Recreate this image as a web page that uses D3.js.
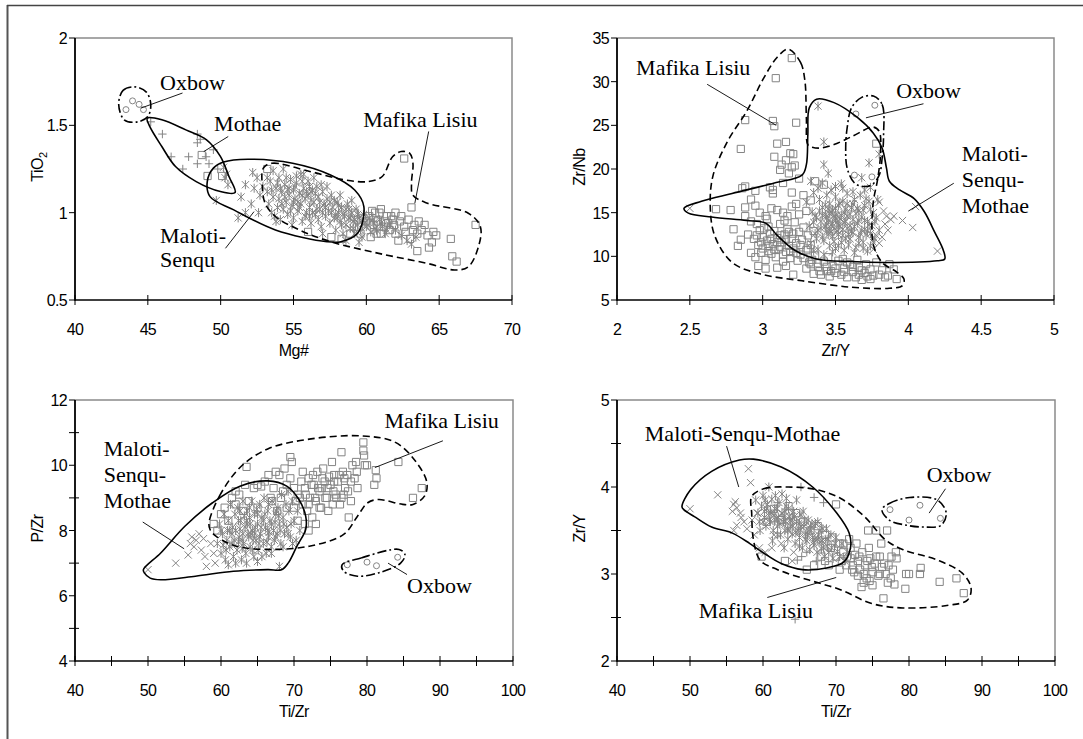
<!DOCTYPE html>
<html>
<head>
<meta charset="utf-8">
<script src="https://cdn.jsdelivr.net/npm/d3@7"></script>
<style>
  html, body { margin: 0; padding: 0; background: #fff; }
  svg { display: block; }
  .tick-label { font-family: "Liberation Sans", Arial, sans-serif; font-size: 16px; letter-spacing: -0.7px; fill: #000; }
  .axis-title { font-family: "Liberation Sans", Arial, sans-serif; font-size: 16px; letter-spacing: -0.5px; fill: #000; }
  .note { font-family: "Liberation Serif", "Times New Roman", serif; font-size: 22px; fill: #000; }
</style>
</head>
<body>
<svg id="chart" width="1083" height="739"></svg>
<script>
// ---------- Panel A: Mg# vs TiO2 ----------
const a_mafika = [[48.7,1.33],[49.1,1.21],[50.1,1.21],[53.2,1.25],[62.6,1.31],[63.1,1.03],[60.2,0.98],[60.6,1.0],[61.0,1.02],[61.4,0.98],[61.8,0.96],[62.0,1.0],[62.3,0.95],[62.6,0.92],[62.9,0.96],[63.2,0.9],[63.5,0.88],[63.8,0.9],[64.2,0.87],[64.5,0.83],[64.8,0.87],[64.3,0.8],[65.8,0.85],[65.9,0.75],[66.2,0.72],[67.5,0.93],[63.5,0.78],[60.5,0.93],[61.2,0.92],[61.6,0.9],[60.0,0.95],[59.5,0.92],[58.9,0.88],[58.3,0.85],[57.6,0.86],[62.0,0.88],[61.0,0.88],[63.0,0.85],[59.8,0.97],[60.8,0.95],[61.5,0.94],[62.4,0.98],[56.0,0.89],[59.2,1.0],[60.4,1.01],[60.9,1.0],[63.6,0.95],[64.0,0.93],
  [59.6,0.88],[60.3,0.86],[61.3,0.95],[61.9,0.93],[62.7,0.89],[63.3,0.93],[60.7,0.88],[62.2,0.84],[64.6,0.89],[61.7,0.98]];
const a_senqu = [[49.7,1.07],[50.2,1.26],[50.3,1.2],[50.5,1.16],[50.4,1.22],[51.4,1.09],[51.7,1.16],[51.2,0.97],[51.7,1.0],[52.2,1.23],[52.5,1.2],[52.3,1.14],[52.7,1.1],[52.1,1.05],[52.6,1.0],[52.9,1.15],[53.2,1.12],[53.3,1.05],[53.4,1.18],[53.5,1.0],[53.6,1.09],[53.7,0.98],[53.8,1.14],[53.9,1.03],[54.0,1.2],[54.0,1.08],[54.1,0.96],[54.2,1.12],[54.3,1.02],[54.4,1.16],[54.5,1.06],[54.6,0.99],[54.7,1.1],[54.8,1.19],[54.9,1.04],[55.0,1.13],[55.0,0.97],[55.1,1.08],[55.2,1.17],[55.3,1.01],[55.4,1.11],[55.5,1.22],[55.5,1.05],[55.6,0.95],[55.7,1.14],[55.8,1.08],[55.9,1.0],[56.0,1.18],[56.0,1.1],[56.1,1.03],[56.2,0.94],[56.3,1.13],[56.4,1.06],[56.5,0.99],[56.6,1.15],[56.7,1.09],[56.8,1.02],[56.9,0.92],[57.0,1.12],[57.1,1.05],[57.2,0.98],[57.3,1.08],[57.4,1.01],[57.5,0.94],[57.6,1.1],[57.7,1.03],[57.8,0.97],[57.9,0.9],[58.0,1.06],[58.1,1.0],[58.2,0.95],[58.3,1.03],[58.4,0.88],[58.5,0.98],[58.6,0.93],[58.7,1.05],[58.8,0.97],[58.9,0.91],[59.0,1.0],[59.1,0.95],[59.2,0.88],[59.3,1.02],[59.4,0.93],[59.5,0.97],[59.6,0.9],[59.7,0.86],[59.8,0.99],[59.9,0.94],[60.0,0.92],[60.2,0.97],[60.3,0.89],[60.5,0.94],[60.7,0.9],[60.9,0.96],[61.1,0.92],[61.3,0.88],[61.6,0.93],[62.0,0.9],[62.4,0.87],[62.8,0.84],[63.1,0.82],[63.4,0.86],[53.6,1.24],[54.3,1.25],[55.2,1.21],[55.7,1.22],[56.4,1.2],[53.2,1.2],[53.8,0.95],[54.9,0.93],[56.1,0.98],[57.3,1.15],[58.2,1.1],[59.0,1.07],[58.6,0.84],[59.5,0.83],[57.0,0.88],[54.4,1.09],[55.3,1.06],[56.2,1.07],[55.9,1.12],[54.7,1.14],[57.6,1.0],[56.6,1.02],[58.0,0.97],
  [53.5,1.13],[53.9,1.17],[54.2,1.05],[54.6,1.13],[54.8,1.01],[55.1,1.15],[55.4,1.03],[55.6,1.18],[55.8,0.98],[56.1,1.15],[56.3,1.0],[56.5,1.11],[56.8,1.06],[56.9,1.16],[57.2,1.03],[57.5,1.06],[57.8,1.07],[58.1,1.04],[58.4,0.99],[58.6,1.02],[58.9,0.97],[59.2,0.96],[59.4,0.99],[59.7,0.95],[60.1,0.93],[60.4,0.96],[60.6,0.91],[61.0,0.94],[61.4,0.9],[54.1,1.14],[54.5,1.2],[55.0,1.06],[55.6,1.1],[56.2,1.12],[56.7,0.96],[57.0,1.0],[57.9,0.99],[58.3,0.93],[58.8,1.02],[59.1,0.91]];
const a_mothae = [[45.2,1.52],[46.0,1.45],[46.6,1.32],[47.4,1.25],[47.8,1.32],[48.4,1.45],[48.4,1.4],[48.4,1.28],[49.0,1.32],[49.5,1.36],[49.2,1.28],[48.6,1.42],[49.8,1.25]];
const a_oxbow = [[43.5,1.59],[43.95,1.64],[44.4,1.62],[44.7,1.59]];
const a_fieldOxbow = [[43.0,1.62],[43.3,1.70],[44.1,1.72],[44.9,1.69],[45.2,1.62],[45.0,1.55],[44.3,1.52],[43.4,1.53]];
const a_fieldMothae = [[44.96,1.541],[45.96,1.532],[47.61,1.474],[49.03,1.417],[49.98,1.322],[50.57,1.207],[50.99,1.115],[49.98,1.121],[48.32,1.178],[46.9,1.264],[45.96,1.379],[45.13,1.494]];
const a_fieldMaloti = [[49.5,1.255],[50.2,1.29],[51.87,1.306],[54.94,1.283],[57.54,1.216],[59.2,1.13],[59.83,1.035],[59.4,0.882],[58.25,0.834],[57.3,0.834],[53.76,0.901],[50.9,1.016],[49.27,1.092],[49.08,1.178]];
const a_fieldMafika = [[52.93,1.255],[53.52,1.283],[56.12,1.236],[58.49,1.188],[60.14,1.178],[61.09,1.207],[61.8,1.32],[62.39,1.35],[62.98,1.34],[63.2,1.283],[63.1,1.169],[63.2,1.1],[64.2,1.054],[67.0,0.997],[67.83,0.92],[67.7,0.806],[67.0,0.69],[66.05,0.672],[64.16,0.71],[60.85,0.767],[57.54,0.834],[55.41,0.901],[53.76,0.978],[53.05,1.054],[52.86,1.15]];

// ---------- Panel B: Zr/Y vs Zr/Nb ----------
const b_mafika = [[3.2,32.7],[3.09,30.4],[2.88,25.6],[3.07,25.5],[3.08,24.9],[3.23,25.3],[2.85,22.3],[3.1,22.9],[3.16,23.1],[3.21,21.7],[3.08,21.4],[3.16,21.0],[3.22,20.4],[3.12,19.9],[3.18,19.5],[3.13,20.5],[3.19,21.8],[3.2,20.2],[3.78,22.9],[3.36,18.6],[3.42,18.2],[3.25,18.9],[3.14,18.4],[3.05,17.9],[2.88,18.0],[2.86,17.8],[2.95,17.5],[3.07,17.6],[3.07,17.2],[3.2,17.3],[3.28,17.0],[2.68,15.4],[2.78,15.3],[2.88,15.6],[2.92,16.5],[2.95,15.8],[2.98,15.0],[3.02,14.6],[3.06,15.5],[3.1,15.3],[3.14,15.0],[3.17,14.6],[3.2,15.7],[3.23,16.0],[3.25,14.8],[3.3,15.2],[3.33,16.4],[2.88,14.6],[2.92,14.0],[2.96,13.7],[2.8,13.1],[2.85,11.9],[2.83,11.2],[2.9,12.5],[2.92,10.4],[2.94,12.0],[2.95,9.9],[2.97,11.3],[2.98,13.0],[3.0,12.2],[3.0,10.9],[3.02,9.6],[3.03,11.8],[3.04,13.4],[3.05,12.6],[3.06,10.3],[3.07,11.4],[3.08,12.9],[3.09,9.9],[3.1,12.1],[3.11,10.8],[3.12,13.7],[3.13,11.6],[3.14,9.4],[3.15,12.5],[3.16,10.5],[3.17,13.1],[3.18,11.2],[3.19,9.8],[3.2,12.0],[3.21,10.9],[3.22,13.9],[3.23,11.5],[3.24,9.5],[3.25,12.8],[3.26,10.2],[3.27,11.9],[3.28,13.3],[3.3,10.7],[3.31,12.4],[3.32,9.3],[3.33,11.3],[3.35,12.9],[3.36,10.1],[2.97,8.9],[3.02,8.6],[3.1,8.7],[3.16,8.9],[3.21,7.9],[3.03,14.3],[3.15,14.1],[3.3,8.6],[3.33,9.1],[3.35,8.0],[3.38,8.8],[3.4,7.9],[3.42,9.4],[3.44,8.3],[3.46,7.7],[3.48,8.9],[3.5,8.1],[3.52,9.5],[3.54,7.9],[3.56,8.6],[3.58,7.6],[3.6,9.1],[3.62,8.2],[3.64,7.6],[3.66,8.7],[3.68,7.3],[3.7,8.1],[3.72,7.7],[3.74,8.5],[3.76,7.8],[3.78,9.3],[3.82,8.4],[3.86,7.8],[3.9,8.5],[3.92,7.4],[3.45,9.9],[3.55,9.7],[3.65,9.6],[3.87,9.1],[3.84,7.6],[2.99,11.6],[3.04,10.6],[3.12,11.1],[3.18,12.8],
  [2.96,12.4],[2.99,10.4],[3.01,13.2],[3.04,11.2],[3.06,12.0],[3.08,10.8],[3.1,11.6],[3.12,12.4],[3.14,10.2],[3.16,11.9],[3.19,10.5],[3.21,12.6],[3.23,10.4],[3.26,11.3],[3.28,9.8],[3.31,10.9],[3.34,9.6],[3.38,9.2],[3.44,8.8],[3.5,8.6],[3.56,8.2],[3.62,8.8],[3.68,8.4],[3.74,7.4],[3.8,7.9],[3.39,8.3],[3.47,8.3],[3.66,7.9],[3.58,9.3],[3.71,9.1]];
const b_senqu = [[3.38,27.2],[3.42,23.1],[3.42,20.5],[3.45,19.5],[3.73,20.7],[3.8,21.7],[3.68,19.0],[3.41,18.4],[3.5,18.0],[3.55,17.8],[3.62,17.4],[3.74,17.9],[3.3,16.2],[3.32,13.5],[3.33,11.5],[3.34,15.1],[3.35,17.3],[3.36,12.6],[3.37,14.4],[3.38,10.8],[3.39,16.5],[3.4,13.2],[3.41,15.6],[3.42,11.8],[3.43,14.8],[3.44,17.0],[3.44,12.9],[3.45,14.1],[3.46,16.0],[3.46,11.2],[3.47,13.6],[3.48,15.3],[3.48,12.3],[3.49,14.6],[3.5,16.8],[3.5,10.9],[3.51,13.9],[3.52,15.8],[3.52,12.5],[3.53,14.3],[3.54,11.6],[3.55,16.3],[3.55,13.1],[3.56,15.0],[3.57,12.0],[3.58,14.6],[3.58,17.2],[3.59,11.3],[3.6,13.5],[3.61,15.6],[3.62,12.7],[3.62,14.2],[3.63,16.5],[3.64,11.0],[3.65,13.8],[3.66,15.2],[3.66,12.2],[3.67,17.0],[3.68,14.5],[3.69,11.6],[3.7,13.1],[3.7,15.8],[3.71,12.5],[3.72,14.0],[3.73,16.3],[3.74,11.2],[3.75,13.5],[3.76,15.0],[3.77,12.0],[3.78,14.4],[3.79,16.5],[3.8,13.0],[3.46,14.9],[3.43,13.4],[3.47,12.8],[3.49,13.2],[3.51,14.7],[3.53,13.5],[3.45,15.4],[3.4,14.0],[3.38,13.0],[3.36,14.6],[3.41,12.2],[3.57,14.0],[3.6,12.0],[3.64,14.9],[3.68,13.0],[3.72,12.9],[3.35,10.6],[3.42,10.2],[3.48,10.5],[3.56,10.7],[3.63,10.4],[3.69,10.9],[3.76,11.6],[3.33,18.6],[3.38,17.8],[3.47,17.6],[3.58,16.0],[3.54,18.3],[3.7,17.6],
  [3.43,15.9],[3.44,14.4],[3.45,12.5],[3.47,15.1],[3.48,13.8],[3.49,11.7],[3.5,15.5],[3.5,14.3],[3.51,12.9],[3.52,13.5],[3.53,16.1],[3.54,14.7],[3.55,12.4],[3.56,13.9],[3.57,15.4],[3.58,13.2],[3.6,14.8],[3.61,12.9],[3.62,16.0],[3.63,13.4],[3.65,15.5],[3.66,14.1],[3.67,12.6],[3.69,15.3],[3.7,14.1],[3.71,16.6],[3.73,13.6],[3.74,15.4],[3.39,15.2],[3.41,14.7],[3.37,12.0],[3.35,13.9],[3.44,13.7],[3.46,13.0],[3.52,11.2],[3.59,12.5],[3.66,11.5],[3.74,12.6],[3.77,14.0],[3.72,10.6]];
const b_maloti = [[2.5,15.5],[3.85,14.6],[3.88,14.2],[3.9,14.6],[3.96,14.1],[4.03,13.3],[4.05,15.7],[4.2,10.6],[3.78,12.4],[3.8,11.5],[3.82,12.2],[3.84,13.7],[3.76,10.8],[3.8,16.2],[3.86,13.0],[3.83,15.2]];
const b_oxbow = [[3.64,26.3],[3.77,27.3],[3.63,19.3],[3.75,19.1]];
const b_fieldMafika = [[3.176,33.73],[3.26,32.2],[3.29,30.1],[3.3,25.9],[3.31,22.8],[3.34,22.5],[3.4,22.4],[3.49,22.8],[3.61,23.7],[3.76,24.8],[3.8,24.3],[3.81,22.0],[3.79,18.9],[3.76,16.3],[3.75,13.2],[3.76,11.3],[3.82,9.3],[3.92,8.2],[3.97,7.4],[3.96,6.65],[3.87,6.34],[3.61,6.46],[3.27,7.2],[2.98,8.0],[2.79,9.3],[2.67,12.4],[2.64,15.9],[2.66,19.3],[2.76,23.2],[2.89,26.6],[3.01,30.5],[3.1,32.8]];
const b_fieldMaloti = [[2.46,15.5],[2.58,16.3],[2.79,17.2],[3.08,18.4],[3.27,19.3],[3.3,20.5],[3.31,23.9],[3.32,27.0],[3.37,28.0],[3.49,27.6],[3.65,25.9],[3.76,24.1],[3.82,22.4],[3.85,20.1],[3.87,18.6],[3.94,17.6],[4.04,16.6],[4.11,15.1],[4.18,12.8],[4.24,10.7],[4.25,9.7],[4.2,9.5],[3.85,9.3],[3.61,9.4],[3.37,9.7],[3.22,10.7],[3.1,12.4],[3.02,13.8],[2.89,14.1],[2.65,14.5],[2.49,14.95]];
const b_fieldOxbow = [[3.76,28.35],[3.82,27.4],[3.83,23.9],[3.82,21.2],[3.8,19.3],[3.75,18.2],[3.69,18.0],[3.63,18.4],[3.58,20.1],[3.57,22.4],[3.58,24.7],[3.61,27.0],[3.68,28.2]];

// ---------- Panel C: Ti/Zr vs P/Zr ----------
const c_mafika = [[59.0,8.2],[59.5,8.0],[60.0,8.5],[60.5,8.7],[61,8.3],[61.5,9.0],[62,8.8],[62.5,9.1],[63.5,9.95],[63.0,8.6],[64.5,9.3],[65.0,9.4],[65.5,9.35],[66.5,9.7],[67.5,9.8],[68.5,9.2],[68.7,9.9],[69.5,10.25],[69.7,10.1],[69.5,9.6],[70,9.3],[70.5,9.1],[71,9.5],[71.2,8.8],[71.5,9.3],[71.8,8.6],[72.0,9.6],[72.2,9.0],[72.5,8.4],[72.7,9.4],[73.0,8.9],[73.2,9.8],[73.5,9.2],[73.7,8.7],[74.0,9.9],[74.2,9.5],[74.5,9.0],[74.7,8.6],[75.0,9.4],[75.2,10.1],[75.5,9.7],[75.7,9.1],[76.0,9.5],[76.3,8.8],[76.5,10.4],[76.7,9.8],[77.0,9.3],[77.3,9.7],[77.5,8.4],[77.8,9.5],[78.0,10.0],[78.3,9.6],[78.5,10.1],[79.5,10.7],[79.5,10.45],[79.6,10.3],[79.7,10.0],[80.0,10.0],[81.2,9.85],[81.3,9.6],[81.0,9.4],[84.3,10.1],[86.3,9.0],[87.5,9.3],[73.0,8.2],[71.5,8.2],[72,8.0],[70.5,8.3],[76.5,9.0],[75.3,8.8],[74.8,9.65],[73.8,9.3],[72.9,9.0],[76.8,9.1],[77.8,8.9],[78.7,9.3],[75.5,9.5],[74.3,9.0],[62.0,9.2],[63.3,9.4],[66.0,9.5],[67.2,9.3],[68.0,9.7],[65.0,8.7],[63.8,8.9],[66.8,9.0],[69.0,9.4],[70.2,8.9],[67.7,8.6],
  [70.8,9.0],[71.6,9.1],[72.4,9.4],[73.3,9.3],[73.9,9.6],[74.6,9.3],[75.4,9.2],[76.2,9.7],[77.4,9.2],[78.6,9.8],[72.0,8.8],[73.5,8.7],[75.8,9.0],[76.9,9.6],[70.0,8.7],[69.0,8.7],[68.2,9.0],[67.0,8.9],[71.2,9.8],[72.6,9.7]];
const c_senqu = [[59.5,7.6],[59.8,8.2],[60.0,7.3],[60.2,7.9],[60.4,8.5],[60.6,7.1],[60.8,7.7],[61.0,8.3],[61.2,7.5],[61.3,8.8],[61.5,7.9],[61.7,7.2],[61.9,8.5],[62.0,8.0],[62.2,7.4],[62.3,8.7],[62.5,7.8],[62.7,8.3],[62.8,7.1],[63.0,8.9],[63.1,7.6],[63.3,8.1],[63.4,7.3],[63.6,8.6],[63.7,7.9],[63.9,8.4],[64.0,7.5],[64.2,8.9],[64.3,8.0],[64.5,7.2],[64.6,8.5],[64.8,7.7],[65.0,8.2],[65.1,7.4],[65.3,8.8],[65.4,7.9],[65.6,8.4],[65.8,7.6],[65.9,9.0],[66.1,8.1],[66.2,7.3],[66.4,8.6],[66.5,7.8],[66.7,8.3],[66.9,7.5],[67.0,8.9],[67.2,8.0],[67.3,7.7],[67.5,8.5],[67.7,7.9],[67.8,8.7],[68.0,8.2],[68.2,7.6],[68.3,9.1],[68.5,8.4],[68.7,7.9],[68.9,8.8],[69.0,8.1],[69.3,8.6],[69.5,7.8],[69.8,8.9],[70.0,8.3],[70.3,7.7],[70.5,8.6],[69.2,9.2],[68.0,6.9],[62.0,7.0],[63.5,7.0],[65.0,7.05],[61.0,6.95],[60.3,7.55],[62.6,8.05],[63.2,8.45],[64.0,8.2],[64.6,7.9],[65.5,8.1],[66.0,8.5],[64.4,7.7],[63.8,7.8],[65.2,7.6],[66.6,7.95],[67.4,8.25],[61.6,8.1],[62.4,7.65],[60.9,8.0],[62.9,7.45],[63.6,8.2],[64.9,8.65],[66.3,7.65],[67.9,8.45],[69.6,8.2],
  [61.2,8.0],[61.8,7.7],[62.4,8.3],[63.0,7.9],[63.5,8.3],[64.1,7.9],[64.7,8.1],[65.3,7.8],[65.8,8.3],[66.4,8.0],[66.9,8.2],[67.5,7.8],[68.1,8.0],[68.6,8.2],[69.2,7.9],[62.6,8.6],[63.9,8.7],[65.0,8.5],[66.5,8.8],[67.6,8.6],[61.5,7.6],[62.9,7.7],[64.3,7.4],[65.6,7.2],[66.9,7.3],[60.7,7.4],[60.0,8.0],[68.5,7.5],[69.8,7.6],[70.8,8.0]];
const c_maloti = [[50,6.8],[53.8,7.0],[55.5,7.25],[56.0,7.8],[56.6,7.7],[57.0,7.9],[56.3,7.5],[57.3,7.4],[58.0,6.9],[59.2,7.0],[57.8,7.2],[58.6,7.6],[59.0,7.3],[55.8,7.6],[57.6,7.75]];
const c_oxbow = [[77.3,6.95],[80.0,7.03],[81.3,6.92],[84.2,7.18]];
const c_fieldMaloti = [[49.37,6.8],[51.74,7.31],[55.05,8.13],[58.84,8.85],[62.6,9.36],[66.4,9.52],[69.0,9.36],[70.67,8.95],[71.6,8.44],[71.6,8.03],[70.4,7.52],[69.2,7.0],[68.3,6.8],[66.4,6.8],[61.7,6.75],[56.5,6.6],[51.74,6.49],[50.3,6.54],[49.5,6.7]];
const c_fieldMafika = [[58.36,8.24],[59.8,9.06],[62.6,9.93],[66.4,10.5],[72.1,10.8],[79.2,10.9],[83.9,10.7],[86.8,10.08],[88.2,9.47],[87.9,9.06],[86.3,8.8],[84.9,8.8],[81.55,8.95],[80.1,8.85],[78.7,8.44],[76.8,7.88],[72.1,7.52],[66.4,7.42],[62.1,7.52],[59.3,7.83],[58.5,8.03]];
const c_fieldOxbow = [[76.58,6.95],[79.2,7.16],[84.4,7.42],[85.2,7.26],[84.6,7.0],[81.55,6.7],[78.7,6.6],[76.8,6.75]];

// ---------- Panel D: Ti/Zr vs Zr/Y ----------
const d_mafika = [[59.8,3.2],[60.5,3.6],[61.5,3.75],[62.5,3.62],[63.5,3.78],[64.5,3.7],[65.5,3.6],[66.5,3.5],[67.5,3.55],[68.5,3.45],[69.5,3.42],[70.0,3.8],[70.5,3.35],[71.0,3.25],[71.5,3.2],[72.0,3.3],[72.3,3.1],[72.6,3.22],[73.0,3.15],[73.3,3.05],[73.6,3.25],[74.0,3.1],[74.2,2.95],[74.4,3.5],[74.7,3.18],[75.0,3.02],[75.3,3.12],[75.5,3.5],[75.8,2.98],[76.0,3.2],[76.3,3.08],[76.5,2.72],[76.8,3.0],[77.0,3.5],[77.2,3.1],[77.5,2.95],[77.8,3.05],[78.2,3.25],[78.3,3.18],[78.0,2.88],[79.5,2.83],[79.6,3.0],[80.0,3.0],[81.5,3.0],[81.6,3.07],[84.2,2.91],[86.5,2.95],[87.5,2.78],[73.8,2.9],[75.0,2.87],[72.8,3.35],[71.8,3.4],[70.5,3.05],[69.0,3.1],[68.0,3.2],[67.0,3.1],[66.0,3.05],[63.0,3.15],[74.5,3.3],[76.2,3.35],[73.5,2.85],
  [70.8,3.15],[71.4,3.1],[72.0,3.18],[72.5,3.02],[73.2,3.2],[73.8,3.0],[74.3,3.15],[74.9,3.08],[75.5,3.2],[76.0,3.0],[76.6,3.12],[77.1,2.9],[77.6,3.2],[72.2,3.05],[73.0,2.98],[74.6,2.92],[71.0,3.35],[70.0,3.2],[69.3,3.3],[68.5,3.15]];
const d_senqu = [[59.0,3.85],[59.3,3.7],[59.5,3.6],[59.8,3.78],[60.0,3.9],[60.2,3.65],[60.4,3.55],[60.6,3.8],[60.8,3.7],[61.0,3.6],[61.2,3.86],[61.4,3.5],[61.6,3.75],[61.8,3.64],[62.0,3.55],[62.2,3.82],[62.4,3.45],[62.6,3.7],[62.8,3.6],[63.0,3.5],[63.2,3.78],[63.4,3.4],[63.6,3.66],[63.8,3.55],[64.0,3.46],[64.2,3.72],[64.4,3.35],[64.6,3.6],[64.8,3.5],[65.0,3.42],[65.2,3.68],[65.4,3.3],[65.6,3.55],[65.8,3.46],[66.0,3.38],[66.2,3.62],[66.4,3.28],[66.6,3.5],[66.8,3.42],[67.0,3.33],[67.2,3.58],[67.4,3.25],[67.6,3.45],[67.8,3.37],[68.0,3.29],[68.2,3.52],[68.4,3.2],[68.6,3.4],[68.8,3.32],[69.0,3.25],[69.3,3.45],[69.6,3.18],[69.9,3.35],[70.2,3.26],[70.5,3.2],[70.8,3.35],[71.2,3.15],[71.6,3.25],[62.1,3.65],[63.1,3.6],[64.1,3.55],[65.1,3.5],[66.1,3.45],[67.1,3.4],[68.1,3.38],[61.1,3.7],[60.5,3.75],[63.7,3.62],[64.9,3.58],[66.5,3.55],[59.6,3.5],[61.3,3.38],[62.9,3.3],[60.8,4.0],[62.6,3.92],[64.6,3.85],[63.5,3.75],[65.5,3.72],[67.5,3.6],
  [60.2,3.72],[60.9,3.62],[61.5,3.68],[62.3,3.58],[62.9,3.66],[63.4,3.52],[64.0,3.62],[64.5,3.48],[65.2,3.55],[65.8,3.4],[66.3,3.5],[66.9,3.36],[67.5,3.4],[68.3,3.3],[68.9,3.4],[69.4,3.3],[61.9,3.75],[63.0,3.72],[64.3,3.66],[65.7,3.62],[66.7,3.58],[60.3,3.85],[61.7,3.9],[63.2,3.87],[62.0,3.45],[63.4,3.5],[65.0,3.32],[67.8,3.5],[68.7,3.52],[70.0,3.42]];
const d_maloti = [[50,3.75],[53.8,3.91],[56.0,3.8],[56.4,3.76],[56.9,3.7],[56.4,3.56],[56.0,3.5],[57.4,3.6],[58.0,4.21],[58.3,4.05],[56.2,3.83],[55.8,3.72],[57.0,3.65],[57.8,3.52],[58.8,3.45],[59.5,3.3],[60.3,3.25],[61.2,3.3],[62.5,3.35],[64.0,3.15],[64.2,3.25],[58.5,3.62],[59.2,3.7],[60.0,3.6],[61.5,3.45]];
const d_mothae = [[65.2,4.0],[67.0,3.88],[68.3,3.82],[64.7,3.16],[65.3,3.2],[67.3,3.15],[64.4,2.48],[62.0,3.82],[61.6,3.6],[66.0,3.25]];
const d_oxbow = [[77.4,3.74],[80.0,3.62],[81.5,3.79],[84.3,3.64]];
const d_fieldMaloti = [[48.9,3.774],[50.1,3.97],[52.96,4.18],[56.78,4.31],[58.68,4.32],[62.5,4.23],[66.8,4.0],[70.1,3.7],[71.8,3.47],[72.0,3.31],[71.08,3.14],[68.7,3.07],[65.4,3.05],[62.5,3.12],[60.1,3.24],[58.2,3.35],[55.8,3.47],[52.96,3.54],[50.6,3.66],[49.15,3.74]];
const d_fieldMafika = [[58.45,3.89],[60.1,3.98],[63.45,4.0],[67.3,3.97],[70.6,3.87],[73.9,3.66],[76.8,3.39],[79.2,3.28],[83.9,3.16],[87.3,3.01],[88.5,2.84],[88.0,2.7],[85.4,2.64],[79.2,2.61],[74.9,2.66],[70.6,2.82],[66.3,2.93],[62.0,3.05],[59.6,3.16],[58.7,3.39],[58.45,3.7]];
const d_fieldOxbow = [[76.3,3.74],[77.3,3.81],[80.1,3.88],[83.9,3.85],[85.1,3.7],[84.4,3.56],[82.0,3.54],[79.7,3.56],[77.3,3.62]];

// ---------- axis ticks and titles ----------
const a_xTicks = [40,45,50,55,60,65,70];
const a_yTicks = [0.5,1,1.5,2];
const b_xTicks = [2,2.5,3,3.5,4,4.5,5];
const b_yTicks = [5,10,15,20,25,30,35];
const c_xTicks = [40,45,50,55,60,65,70,75,80,85,90,95,100];
const c_xLabels = [40,50,60,70,80,90,100];
const c_yTicks = [4,5,6,7,8,9,10,11,12];
const c_yLabels = [4,6,8,10,12];
const d_xTicks = c_xTicks;
const d_xLabels = c_xLabels;
const d_yTicks = [2,2.5,3,3.5,4,4.5,5];
const d_yLabels = [2,3,4,5];

const svg = d3.select("#chart");
const GREY = "#848484";

// outer figure frame (left and top edges)
svg.append("line").attr("x1", 7.5).attr("y1", 5).attr("x2", 7.5).attr("y2", 739)
  .attr("stroke", "#555").attr("stroke-width", 2);
svg.append("line").attr("x1", 7).attr("y1", 5.5).attr("x2", 1083).attr("y2", 5.5)
  .attr("stroke", "#444").attr("stroke-width", 1.5);

function markerPath(type) {
  const s = 3.6;
  switch (type) {
    case "x": return `M${-s},${-s}L${s},${s}M${-s},${s}L${s},${-s}`;
    case "star": return `M${-s},${-s}L${s},${s}M${-s},${s}L${s},${-s}M0,${-s*1.25}L0,${s*1.25}`;
    case "plus": return `M${-4.2},0L${4.2},0M0,${-4.2}L0,${4.2}`;
    case "square": return `M-3.6,-3.6h7.2v7.2h-7.2Z`;
    case "circle": return "M3,0A3,3 0 1,1 -3,0A3,3 0 1,1 3,0Z";
  }
}

function panel(cfg) {
  const x = d3.scaleLinear().domain(cfg.xDomain).range([cfg.left, cfg.right]);
  const y = d3.scaleLinear().domain(cfg.yDomain).range([cfg.bottom, cfg.top]);
  const g = svg.append("g");

  // plot-area border (top and right)
  g.append("path")
    .attr("d", `M${cfg.left},${cfg.top}H${cfg.right}V${cfg.bottom}`)
    .attr("fill", "none").attr("stroke", "#8a8a8a").attr("stroke-width", 1.5);

  // scatter markers
  cfg.series.forEach(s => {
    g.append("g").selectAll("path").data(s.data).join("path")
      .attr("transform", d => `translate(${x(d[0])},${y(d[1])})`)
      .attr("d", markerPath(s.shape))
      .attr("fill", "none").attr("stroke", GREY).attr("stroke-width", 1);
  });

  // field outlines
  const curve = d3.line().x(d => x(d[0])).y(d => y(d[1])).curve(d3.curveCatmullRomClosed.alpha(0.5));
  const dashes = { solid: null, dash: "7,4", dashdot: "9,3,2,3" };
  cfg.fields.forEach(f => {
    g.append("path").attr("d", curve(f.pts))
      .attr("fill", "none").attr("stroke", "#000").attr("stroke-width", 1.6)
      .attr("stroke-dasharray", dashes[f.style]);
  });

  // labels and leader lines
  cfg.notes.forEach(n => {
    g.append("line")
      .attr("x1", x(n.lead[0][0])).attr("y1", y(n.lead[0][1]))
      .attr("x2", x(n.lead[1][0])).attr("y2", y(n.lead[1][1]))
      .attr("stroke", "#000").attr("stroke-width", 0.9);
    const t = g.append("text").attr("class", "note")
      .attr("x", x(n.at[0])).attr("y", y(n.at[1]));
    n.lines.forEach((line, i) => {
      t.append("tspan").attr("x", x(n.at[0])).attr("dy", i === 0 ? 0 : n.lh).text(line);
    });
  });

  // axes
  g.append("line").attr("x1", cfg.left).attr("x2", cfg.left).attr("y1", cfg.top).attr("y2", cfg.bottom + 0.75)
    .attr("stroke", "#000").attr("stroke-width", 1.8);
  g.append("line").attr("x1", cfg.left).attr("x2", cfg.right).attr("y1", cfg.bottom).attr("y2", cfg.bottom)
    .attr("stroke", "#000").attr("stroke-width", 1.6);

  cfg.xTicks.forEach(v => {
    g.append("line").attr("x1", x(v)).attr("x2", x(v)).attr("y1", cfg.bottom - 5).attr("y2", cfg.bottom + 5)
      .attr("stroke", "#000").attr("stroke-width", 1);
  });
  cfg.xLabels.forEach(v => {
    g.append("text").attr("class", "tick-label").attr("text-anchor", "middle")
      .attr("x", x(v)).attr("y", cfg.bottom + 35).text(String(v));
  });
  cfg.yTicks.forEach(v => {
    const major = cfg.yLabels.includes(v);
    g.append("line").attr("x1", cfg.left - 6).attr("x2", major ? cfg.left : cfg.left + 4)
      .attr("y1", y(v)).attr("y2", y(v))
      .attr("stroke", "#000").attr("stroke-width", 1);
  });
  cfg.yLabels.forEach(v => {
    g.append("text").attr("class", "tick-label").attr("text-anchor", "end")
      .attr("x", cfg.left - 8).attr("y", y(v) + 6).text(String(v));
  });

  g.append("text").attr("class", "axis-title").attr("text-anchor", "middle")
    .attr("x", (cfg.left + cfg.right) / 2).attr("y", cfg.bottom + 56).text(cfg.xTitle);
  const yt = g.append("text").attr("class", "axis-title").attr("text-anchor", "middle")
    .attr("transform", `translate(${cfg.left - 32},${(cfg.top + cfg.bottom) / 2 - 2}) rotate(-90)`);
  if (cfg.yTitleSub) {
    yt.append("tspan").text(cfg.yTitle);
    yt.append("tspan").attr("font-size", "11px").attr("dy", 4).text(cfg.yTitleSub);
  } else {
    yt.text(cfg.yTitle);
  }
}

panel({
  left: 75, right: 512, top: 38, bottom: 300,
  xDomain: [40, 70], yDomain: [0.5, 2],
  xTicks: a_xTicks, xLabels: a_xTicks, yTicks: a_yTicks, yLabels: a_yTicks,
  xTitle: "Mg#", yTitle: "TiO", yTitleSub: "2",
  series: [
    { data: a_mafika, shape: "square" },
    { data: a_senqu, shape: "star" },
    { data: a_mothae, shape: "plus" },
    { data: a_oxbow, shape: "circle" }
  ],
  fields: [
    { pts: a_fieldOxbow, style: "dashdot" },
    { pts: a_fieldMothae, style: "solid" },
    { pts: a_fieldMaloti, style: "solid" },
    { pts: a_fieldMafika, style: "dash" }
  ],
  notes: [
    { lines: ["Oxbow"], at: [45.84, 1.70], lh: 24, lead: [[47.38, 1.685], [44.54, 1.599]] },
    { lines: ["Mothae"], at: [49.55, 1.469], lh: 24, lead: [[50.52, 1.436], [48.84, 1.35]] },
    { lines: ["Mafika Lisiu"], at: [59.79, 1.488], lh: 24, lead: [[64.28, 1.465], [63.33, 1.054]] },
    { lines: ["Maloti-", "Senqu"], at: [45.84, 0.829], lh: 24, lead: [[50.33, 0.796], [52.29, 1.006]] }
  ]
});

panel({
  left: 617, right: 1054, top: 38, bottom: 300,
  xDomain: [2, 5], yDomain: [5, 35],
  xTicks: b_xTicks, xLabels: b_xTicks, yTicks: b_yTicks, yLabels: b_yTicks,
  xTitle: "Zr/Y", yTitle: "Zr/Nb",
  series: [
    { data: b_mafika, shape: "square" },
    { data: b_senqu, shape: "star" },
    { data: b_maloti, shape: "x" },
    { data: b_oxbow, shape: "circle" }
  ],
  fields: [
    { pts: b_fieldMafika, style: "dash" },
    { pts: b_fieldMaloti, style: "solid" },
    { pts: b_fieldOxbow, style: "dashdot" }
  ],
  notes: [
    { lines: ["Mafika Lisiu"], at: [2.131, 30.77], lh: 26, lead: [[2.619, 29.7], [3.093, 25.0]] },
    { lines: ["Oxbow"], at: [3.917, 28.16], lh: 26, lead: [[4.104, 27.47], [3.709, 25.86]] },
    { lines: ["Maloti-", "Senqu-", "Mothae"], at: [4.367, 20.94], lh: 26, lead: [[4.312, 18.37], [4.0, 15.18]] }
  ]
});

panel({
  left: 75, right: 513, top: 400, bottom: 661,
  xDomain: [40, 100], yDomain: [4, 12],
  xTicks: c_xTicks, xLabels: c_xLabels, yTicks: c_yTicks, yLabels: c_yLabels,
  xTitle: "Ti/Zr", yTitle: "P/Zr",
  series: [
    { data: c_mafika, shape: "square" },
    { data: c_senqu, shape: "star" },
    { data: c_maloti, shape: "x" },
    { data: c_oxbow, shape: "circle" }
  ],
  fields: [
    { pts: c_fieldMaloti, style: "solid" },
    { pts: c_fieldMafika, style: "dash" },
    { pts: c_fieldOxbow, style: "dashdot" }
  ],
  notes: [
    { lines: ["Maloti-", "Senqu-", "Mothae"], at: [43.93, 10.27], lh: 26, lead: [[49.28, 8.26], [54.95, 7.44]] },
    { lines: ["Mafika Lisiu"], at: [82.4, 11.13], lh: 26, lead: [[90.4, 10.75], [81.08, 9.93]] },
    { lines: ["Oxbow"], at: [85.48, 6.08], lh: 26, lead: [[85.48, 6.65], [82.88, 7.0]] }
  ]
});

panel({
  left: 617, right: 1055, top: 400, bottom: 661,
  xDomain: [40, 100], yDomain: [2, 5],
  xTicks: d_xTicks, xLabels: d_xLabels, yTicks: d_yTicks, yLabels: d_yLabels,
  xTitle: "Ti/Zr", yTitle: "Zr/Y",
  series: [
    { data: d_mafika, shape: "square" },
    { data: d_senqu, shape: "star" },
    { data: d_maloti, shape: "x" },
    { data: d_mothae, shape: "plus" },
    { data: d_oxbow, shape: "circle" }
  ],
  fields: [
    { pts: d_fieldMaloti, style: "solid" },
    { pts: d_fieldMafika, style: "dash" },
    { pts: d_fieldOxbow, style: "dashdot" }
  ],
  notes: [
    { lines: ["Maloti-Senqu-Mothae"], at: [43.81, 4.53], lh: 26, lead: [[55.01, 4.47], [56.68, 4.0]] },
    { lines: ["Oxbow"], at: [82.42, 4.06], lh: 26, lead: [[85.0, 3.98], [82.76, 3.70]] },
    { lines: ["Mafika Lisiu"], at: [51.2, 2.50], lh: 26, lead: [[60.59, 2.73], [70.03, 2.96]] }
  ]
});
</script>
</body>
</html>
